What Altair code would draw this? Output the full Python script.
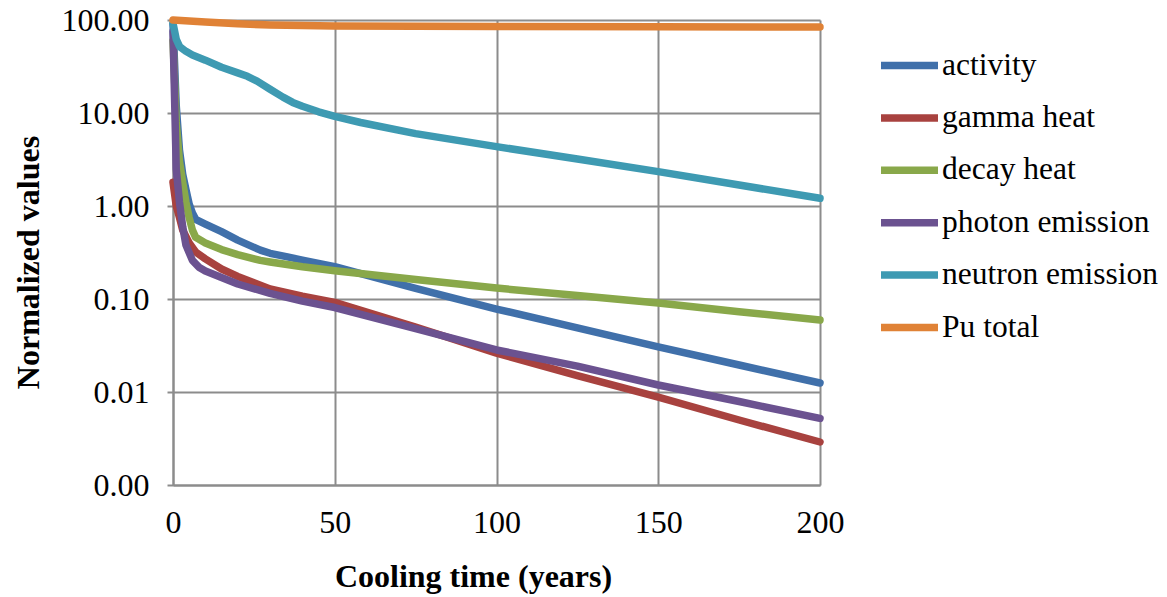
import altair as alt
import pandas as pd

series = ["activity", "gamma heat", "decay heat", "photon emission", "neutron emission", "Pu total"]
colors = ["#4070AA", "#A8423F", "#89A84A", "#6B5290", "#3E9AB2", "#E08236"]

t_activity = [0, 1, 2, 3, 4, 5, 6, 7, 10, 15, 20, 27, 30, 35, 40, 50, 75, 100, 125, 150, 175, 200]
v_activity = [90, 12, 4, 2.2, 1.5, 1.05, 0.84, 0.72, 0.64, 0.53, 0.43, 0.335, 0.31, 0.285, 0.262, 0.223, 0.13, 0.078, 0.049, 0.0305, 0.0195, 0.0125]

t_gamma = [0, 1, 2, 3, 5, 7, 10, 15, 20, 30, 40, 50, 75, 100, 125, 150, 175, 200]
v_gamma = [1.8, 1.0, 0.75, 0.55, 0.4, 0.32, 0.27, 0.21, 0.175, 0.128, 0.107, 0.092, 0.05, 0.0262, 0.015, 0.0088, 0.005, 0.0029]

t_decay = [0, 1, 2, 3, 4, 5, 6, 7, 10, 15, 20, 27, 30, 40, 50, 75, 100, 125, 150, 175, 200]
v_decay = [60, 8, 3, 1.8, 1.1, 0.75, 0.55, 0.46, 0.4, 0.34, 0.3, 0.26, 0.25, 0.222, 0.201, 0.162, 0.131, 0.109, 0.0905, 0.073, 0.0594]

t_photon = [0, 1, 2, 3, 4, 6, 8, 10, 15, 20, 30, 40, 50, 75, 100, 125, 150, 175, 200]
v_photon = [75, 2.5, 1.1, 0.6, 0.38, 0.26, 0.22, 0.2, 0.17, 0.145, 0.115, 0.095, 0.081, 0.048, 0.0283, 0.019, 0.0119, 0.0079, 0.0052]

t_neutron = [0, 1, 2, 4, 6, 10, 15, 20, 23, 26, 30, 34, 37, 40, 45, 50, 58, 75, 100, 125, 150, 175, 200]
v_neutron = [92, 62, 52, 46, 42, 37, 31, 27, 24.8, 22, 18, 14.8, 13, 11.8, 10.3, 9.2, 7.9, 6.0, 4.35, 3.2, 2.34, 1.68, 1.21]

t_pu = [0, 10, 20, 30, 50, 100, 150, 200]
v_pu = [100, 95, 91, 88.5, 86, 85, 84.5, 84]

rows = []
for name, ts, vs in [
    ("activity", t_activity, v_activity),
    ("gamma heat", t_gamma, v_gamma),
    ("decay heat", t_decay, v_decay),
    ("photon emission", t_photon, v_photon),
    ("neutron emission", t_neutron, v_neutron),
    ("Pu total", t_pu, v_pu),
]:
    for t, v in zip(ts, vs):
        rows.append({"series": name, "t": t, "v": v, "order": series.index(name)})
df = pd.DataFrame(rows)

FONT = "Liberation Serif"

chart = alt.Chart(df).mark_line(strokeWidth=7.5, strokeCap="round", strokeJoin="round").encode(
    x=alt.X("t:Q", title="Cooling time (years)",
            scale=alt.Scale(domain=[0, 200], nice=False),
            axis=alt.Axis(values=[0, 50, 100, 150, 200], labelFontSize=32, titleFontSize=32,
                          labelFlush=False, labelPadding=22, titlePadding=23, tickSize=0,
                          titleX=300)),
    y=alt.Y("v:Q", title="Normalized values",
            scale=alt.Scale(type="log", domain=[0.001, 100], nice=False),
            axis=alt.Axis(values=[0.001, 0.01, 0.1, 1, 10, 100], format=".2f",
                          labelFontSize=32, titleFontSize=32, tickSize=6,
                          labelPadding=18, titlePadding=16, titleY=242)),
    color=alt.Color("series:N", sort=series,
                    scale=alt.Scale(domain=series, range=colors),
                    legend=alt.Legend(title=None, orient="none", legendX=704, legendY=13,
                                      symbolType="stroke", symbolSize=3249,
                                      symbolStrokeWidth=7.5, labelFontSize=31.5,
                                      labelFont=FONT, labelColor="black",
                                      rowPadding=4.4, labelOffset=0, labelLimit=400)),
    detail="series:N",
    order=alt.Order("order:Q"),
).properties(
    width=647, height=465,
    autosize=alt.AutoSizeParams(type="none"),
    padding={"left": 165, "top": 12, "right": 339, "bottom": 110},
    background="white",
).configure_axis(
    labelFont=FONT, titleFont=FONT, labelColor="black", titleColor="black",
    titleFontWeight="bold", grid=True, gridColor="#8C8C8C", gridWidth=2, gridOpacity=1,
    domainColor="#8C8C8C", domainWidth=2, tickColor="#8C8C8C", tickWidth=2,
).configure_view(stroke=None)

chart.save("out.html", embed_options={"renderer": "svg", "actions": False})
